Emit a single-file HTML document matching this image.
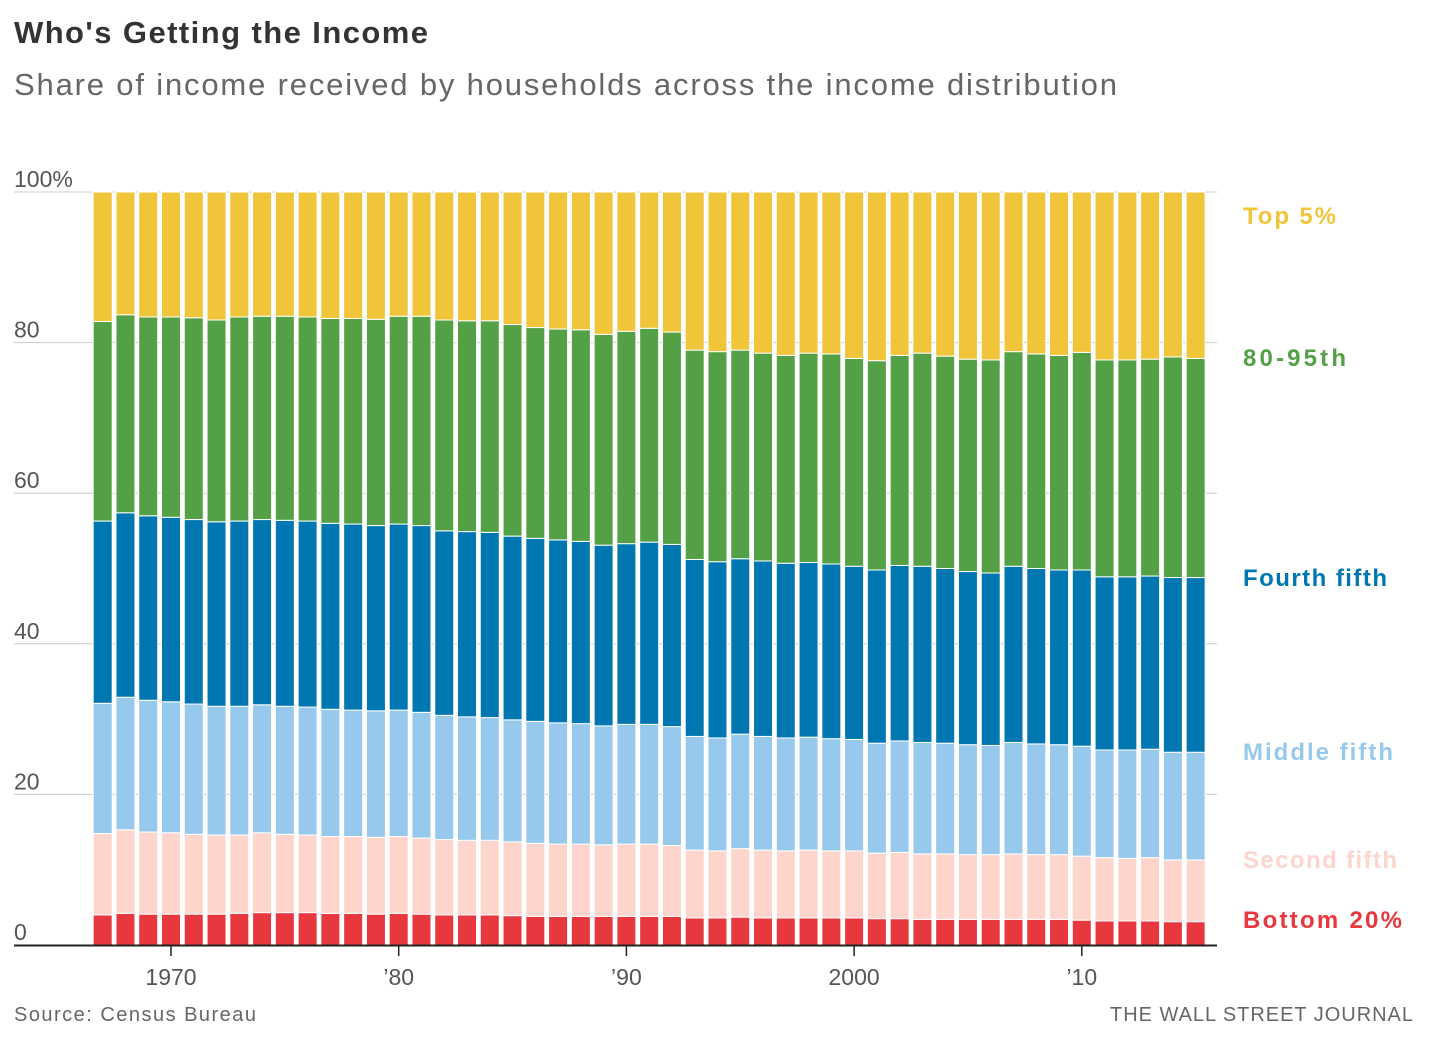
<!DOCTYPE html>
<html><head><meta charset="utf-8"><style>
body{margin:0;background:#fff;width:1433px;height:1050px;overflow:hidden;font-family:"Liberation Sans",sans-serif}
</style></head><body>
<svg id="c" width="1433" height="1050" style="position:absolute;left:0;top:0">
<text x="14" y="43" font-size="31" font-weight="bold" fill="#333" textLength="414" lengthAdjust="spacing">Who's Getting the Income</text>
<text x="14" y="95" font-size="31" fill="#666" textLength="1103" lengthAdjust="spacing">Share of income received by households across the income distribution</text>
<text x="14" y="1021" font-size="20" fill="#666" textLength="242" lengthAdjust="spacing">Source: Census Bureau</text>
<text x="1110" y="1021" font-size="20" fill="#666" textLength="303" lengthAdjust="spacing">THE WALL STREET JOURNAL</text>
<g id="grid"></g><g id="bars"></g><g id="axis"></g><g id="legend"></g>
</svg>
<script>
const years=[1967,1968,1969,1970,1971,1972,1973,1974,1975,1976,1977,1978,1979,1980,1981,1982,1983,1984,1985,1986,1987,1988,1989,1990,1991,1992,1993,1994,1995,1996,1997,1998,1999,2000,2001,2002,2003,2004,2005,2006,2007,2008,2009,2010,2011,2012,2013,2014,2015];
const bottom=[4.0,4.2,4.1,4.1,4.1,4.1,4.2,4.3,4.3,4.3,4.2,4.2,4.1,4.2,4.1,4.0,4.0,4.0,3.9,3.8,3.8,3.8,3.8,3.8,3.8,3.8,3.6,3.6,3.7,3.6,3.6,3.6,3.6,3.6,3.5,3.5,3.4,3.4,3.4,3.4,3.4,3.4,3.4,3.3,3.2,3.2,3.2,3.1,3.1];
const second=[10.8,11.1,10.9,10.8,10.6,10.5,10.4,10.6,10.4,10.3,10.2,10.2,10.2,10.2,10.1,10.0,9.9,9.9,9.8,9.7,9.6,9.6,9.5,9.6,9.6,9.4,9.0,8.9,9.1,9.0,8.9,9.0,8.9,8.9,8.7,8.8,8.7,8.7,8.6,8.6,8.7,8.6,8.6,8.5,8.4,8.3,8.4,8.2,8.2];
const middle=[17.3,17.6,17.5,17.4,17.3,17.1,17.1,17.0,17.0,17.0,16.9,16.8,16.8,16.8,16.7,16.5,16.4,16.3,16.2,16.2,16.1,16.0,15.8,15.9,15.9,15.8,15.1,15.0,15.2,15.1,15.0,15.0,14.9,14.8,14.6,14.8,14.8,14.7,14.6,14.5,14.8,14.7,14.6,14.6,14.3,14.4,14.4,14.3,14.3];
const fourth=[24.2,24.5,24.5,24.5,24.5,24.5,24.6,24.6,24.7,24.7,24.7,24.7,24.6,24.7,24.8,24.5,24.6,24.6,24.4,24.3,24.3,24.2,24.0,24.0,24.2,24.2,23.5,23.4,23.3,23.3,23.2,23.2,23.2,23.0,23.0,23.3,23.4,23.2,23.0,22.9,23.4,23.3,23.2,23.4,23.0,23.0,23.0,23.2,23.2];
const top5=[17.2,16.3,16.6,16.6,16.7,17.0,16.6,16.5,16.5,16.6,16.8,16.8,16.9,16.5,16.5,17.0,17.1,17.1,17.6,18.0,18.2,18.3,18.9,18.5,18.1,18.6,21.0,21.2,21.0,21.4,21.7,21.4,21.5,22.1,22.4,21.7,21.4,21.8,22.2,22.3,21.2,21.5,21.7,21.3,22.3,22.3,22.2,21.9,22.1];
const yTicks=[0,20,40,60,80,100];
const xTicks=[1970,1980,1990,2000,2010];
const xTickLabels=["1970","’80","’90","2000","’10"];
const seriesNames=["Bottom 20%","Second fifth","Middle fifth","Fourth fifth","80-95th","Top 5%"];
const colors=["#e8383f","#fdd5cc","#97c9ed","#0077b0","#54a046","#f0c53a"];
const NS="http://www.w3.org/2000/svg";
const x=yr=>171+(yr-1970)*22.77;
const y=v=>945-v*7.53;
const bw=19;
function mk(tag,attrs,parent){const e=document.createElementNS(NS,tag);for(const k in attrs)e.setAttribute(k,attrs[k]);parent.appendChild(e);return e;}
const grid=document.getElementById('grid'),bars=document.getElementById('bars'),axis=document.getElementById('axis'),legend=document.getElementById('legend');
yTicks.forEach(t=>{
 if(t>0){const l=mk('line',{x1:14,x2:1217,y1:y(t),y2:y(t),stroke:'#ccc','stroke-width':1},grid);
 
 }
 const tx=mk('text',{x:14,y:y(t)-5,'font-size':23,fill:'#555'},grid);
 tx.textContent=t===100?'100%':String(t);
 
 
});
const segNames=['bottom-20','second-fifth','middle-fifth','fourth-fifth','80-95th','top-5'];
years.forEach((yr,i)=>{
 const b1=bottom[i],b2=b1+second[i],b3=b2+middle[i],b4=b3+fourth[i],b5=100-top5[i];
 const bounds=[[0,b1],[b1,b2],[b2,b3],[b3,b4],[b4,b5],[b5,100]];
 bounds.forEach((bd,j)=>{
  const r=mk('rect',{x:x(yr)-bw/2,y:y(bd[1]),width:bw,height:y(bd[0])-y(bd[1]),fill:colors[j],stroke:'#fff','stroke-width':1},bars);
  
  
 });
});
const ax=mk('line',{x1:14,x2:1217,y1:945.5,y2:945.5,stroke:'#222','stroke-width':2},axis);


xTicks.forEach((t,i)=>{
 const tk=mk('line',{x1:x(t),x2:x(t),y1:946,y2:956,stroke:'#222','stroke-width':1.5},axis);
 
 
 const tx=mk('text',{x:x(t),y:985,'font-size':23,fill:'#555','text-anchor':'middle'},axis);
 tx.textContent=xTickLabels[i];
 
 
});
const legY=[928,868,760,586,366,224];
const legW=[159,154,150,144,103,93];
seriesNames.forEach((n,j)=>{
 const tx=mk('text',{x:1243,y:legY[j],'font-size':24,'font-weight':'bold',fill:colors[j],textLength:legW[j],lengthAdjust:'spacing'},legend);
 tx.textContent=n;
 
 
});
</script>
</body></html>
